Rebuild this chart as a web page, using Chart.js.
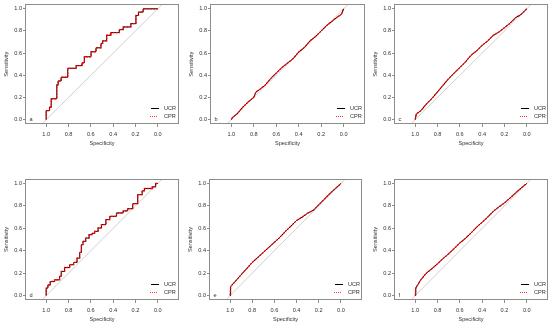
<!DOCTYPE html>
<html><head><meta charset="utf-8">
<script src="https://cdn.jsdelivr.net/npm/chart.js@4"></script>
<style>
html,body{margin:0;padding:0;background:#fff;}
#wrap{position:relative;width:550px;height:326px;overflow:hidden;background:#fff;}
#wrap canvas{position:absolute;left:0;top:0;}
</style></head><body><div id="wrap"></div>
<script>
// ---------- data ----------
const panelLetters = ['a', 'b', 'c', 'd', 'e', 'f'];
const seriesNames = ['UCR', 'CPR'];
const tickValues = [0, 0.2, 0.4, 0.6, 0.8, 1.0];
const xTitle = 'Specificity';
const yTitle = 'Sensitivity';

// panel a (step ROC): specificity / sensitivity at each step
const specA = [1.00, 1.00, 0.970, 0.955, 0.905, 0.893, 0.866, 0.807, 0.732, 0.679, 0.658, 0.598, 0.554, 0.509, 0.494, 0.458, 0.420, 0.345, 0.310, 0.241, 0.196, 0.173, 0.131, 0.000];
const sensA = [0.000, 0.081, 0.113, 0.188, 0.313, 0.349, 0.382, 0.463, 0.487, 0.513, 0.567, 0.612, 0.648, 0.687, 0.710, 0.761, 0.785, 0.812, 0.836, 0.866, 0.940, 0.970, 1.000, 1.000];

// panel b
const specB = [1.00, 0.99, 0.95, 0.90, 0.85, 0.80, 0.78, 0.75, 0.70, 0.65, 0.60, 0.55, 0.50, 0.45, 0.40, 0.35, 0.30, 0.25, 0.20, 0.15, 0.10, 0.05, 0.02, 0.00];
const sensB = [0.00, 0.02, 0.05, 0.11, 0.16, 0.20, 0.25, 0.27, 0.31, 0.37, 0.42, 0.47, 0.51, 0.55, 0.61, 0.65, 0.71, 0.75, 0.80, 0.85, 0.89, 0.93, 0.95, 1.00];

// panel c
const specC = [1.00, 0.99, 0.95, 0.90, 0.85, 0.80, 0.75, 0.70, 0.65, 0.60, 0.55, 0.50, 0.45, 0.40, 0.35, 0.30, 0.25, 0.20, 0.15, 0.10, 0.05, 0.00];
const sensC = [0.00, 0.05, 0.08, 0.14, 0.19, 0.25, 0.31, 0.37, 0.42, 0.47, 0.52, 0.58, 0.62, 0.67, 0.71, 0.76, 0.79, 0.83, 0.87, 0.92, 0.95, 1.00];

// panel d (step ROC)
const specD = [1.00, 1.00, 0.985, 0.964, 0.925, 0.880, 0.865, 0.835, 0.790, 0.754, 0.724, 0.700, 0.685, 0.670, 0.646, 0.616, 0.590, 0.565, 0.535, 0.505, 0.465, 0.430, 0.370, 0.310, 0.270, 0.225, 0.180, 0.140, 0.120, 0.050, 0.020, 0.000];
const sensD = [0.000, 0.066, 0.095, 0.125, 0.140, 0.170, 0.215, 0.250, 0.275, 0.295, 0.334, 0.385, 0.454, 0.484, 0.513, 0.543, 0.555, 0.573, 0.603, 0.633, 0.678, 0.707, 0.737, 0.755, 0.775, 0.820, 0.900, 0.935, 0.955, 0.970, 1.000, 1.000];

// panel e
const specE = [1.00, 0.995, 0.95, 0.90, 0.85, 0.80, 0.75, 0.70, 0.65, 0.60, 0.55, 0.50, 0.45, 0.40, 0.35, 0.30, 0.28, 0.25, 0.20, 0.15, 0.10, 0.05, 0.00];
const sensE = [0.00, 0.08, 0.13, 0.185, 0.24, 0.295, 0.34, 0.385, 0.43, 0.475, 0.52, 0.573, 0.62, 0.67, 0.70, 0.735, 0.745, 0.76, 0.81, 0.86, 0.91, 0.955, 1.00];

// panel f
const specF = [1.00, 0.995, 0.95, 0.90, 0.85, 0.80, 0.75, 0.70, 0.65, 0.60, 0.55, 0.50, 0.45, 0.40, 0.35, 0.30, 0.25, 0.20, 0.15, 0.10, 0.05, 0.00];
const sensF = [0.00, 0.066, 0.14, 0.20, 0.24, 0.283, 0.33, 0.373, 0.42, 0.469, 0.51, 0.558, 0.61, 0.654, 0.70, 0.752, 0.79, 0.827, 0.87, 0.916, 0.96, 1.00];

const panelSpec = [specA, specB, specC, specD, specE, specF];
const panelSens = [sensA, sensB, sensC, sensD, sensE, sensF];
const panelStepped = [true, false, false, true, false, false];

// ---------- layout (pixel frames of each panel) ----------
const frames = [
  {L: 25, R: 179, T: 4, B: 124}, {L: 210, R: 365, T: 4, B: 124}, {L: 394, R: 548, T: 4, B: 124},
  {L: 25, R: 179, T: 179, B: 300}, {L: 209, R: 362, T: 179, B: 300}, {L: 394, R: 548, T: 179, B: 300}
];
const W = 550, H = 326;
const FONT = "'Liberation Sans', Arial, sans-serif";
const FS = 5.6;
const TXT = '#333333';
const FRAME = '#8c8c8c';

const framePlugin = {
  id: 'frameAndLegend',
  afterDatasetsDraw(chart) {
    const ctx = chart.ctx, a = chart.chartArea;
    const letter = chart.options.plugins.frameAndLegend.letter;
    ctx.save();
    ctx.setLineDash([]);
    ctx.strokeStyle = FRAME; ctx.lineWidth = 1;
    ctx.strokeRect(Math.round(a.left) + 0.5, Math.round(a.top) + 0.5, Math.round(a.right - a.left) - 1, Math.round(a.bottom - a.top) - 1);
    ctx.font = FS + 'px ' + FONT;
    ctx.fillStyle = TXT;
    ctx.textBaseline = 'middle';
    ctx.textAlign = 'left';
    // panel letter
    const y0 = chart.scales.y.getPixelForValue(0);
    ctx.fillText(letter, a.left + 4.5, y0);
    // legend
    const tx = 2 * Math.round((a.right - 15) / 2);
    const yU = 2 * Math.round((a.bottom - 15.5) / 2), yC = yU + 8;
    ctx.fillText(seriesNames[0], tx, yU + 0.5);
    ctx.fillText(seriesNames[1], tx, yC + 0.5);
    ctx.fillStyle = '#000000';
    ctx.fillRect(tx - 13, yU, 8, 1);
    ctx.fillStyle = '#ff2a2a';
    for (let k = 0; k < 8; k += 2) ctx.fillRect(tx - 14 + k, yC, 1, 1);
    ctx.restore();
  }
};

const wrap = document.getElementById('wrap');
panelLetters.forEach((letter, i) => {
  const f = frames[i];
  const cv = document.createElement('canvas');
  cv.width = W; cv.height = H;
  cv.style.width = W + 'px'; cv.style.height = H + 'px';
  wrap.appendChild(cv);
  const pts = panelSpec[i].map((s, k) => ({x: s, y: panelSens[i][k]}));
  const stepped = panelStepped[i] ? 'before' : false;
  new Chart(cv.getContext('2d'), {
    type: 'line',
    data: {
      datasets: [
        {label: 'diag', data: [{x: 1.3, y: -0.3}, {x: -0.3, y: 1.3}], borderColor: '#cfcfcf', borderWidth: 1, pointRadius: 0, order: 3},
        {label: seriesNames[0], data: pts, borderColor: '#000000', borderWidth: 1, pointRadius: 0, stepped: stepped, tension: 0, order: 2},
        {label: seriesNames[1], data: pts, borderColor: '#ff0000', borderWidth: 1.3, borderDash: [2, 1.2], pointRadius: 0, stepped: stepped, tension: 0, order: 1}
      ]
    },
    options: {
      responsive: false,
      animation: false,
      events: [],
      layout: {padding: {left: f.L - 25, right: W - f.R, top: f.T, bottom: H - f.B - 24}},
      plugins: {legend: {display: false}, tooltip: {enabled: false}, frameAndLegend: {letter: letter}},
      scales: {
        x: {
          type: 'linear', reverse: true, min: -0.19, max: 1.19,
          afterBuildTicks: s => { s.ticks = tickValues.map(v => ({value: v})); },
          afterFit: s => { s.height = 24; },
          ticks: {autoSkip: false, maxRotation: 0, padding: 4, color: TXT, font: {family: FONT, size: FS}, callback: v => Number(v).toFixed(1)},
          grid: {display: true, drawOnChartArea: false, drawTicks: true, tickLength: 3, color: FRAME, lineWidth: 1},
          border: {display: false},
          title: {display: true, text: xTitle, color: TXT, font: {family: FONT, size: FS}, padding: {top: 0, bottom: 1.2}}
        },
        y: {
          type: 'linear', min: -0.04, max: 1.04,
          afterBuildTicks: s => { s.ticks = tickValues.map(v => ({value: v})); },
          afterFit: s => { s.width = 25; },
          ticks: {autoSkip: false, padding: 1, color: TXT, font: {family: FONT, size: FS}, callback: v => Number(v).toFixed(1)},
          grid: {display: true, drawOnChartArea: false, drawTicks: true, tickLength: 2, color: FRAME, lineWidth: 1},
          border: {display: false},
          title: {display: true, text: yTitle, color: TXT, font: {family: FONT, size: FS}, padding: {top: 2.7, bottom: 0}}
        }
      }
    },
    plugins: [framePlugin]
  });
});
</script></body></html>
